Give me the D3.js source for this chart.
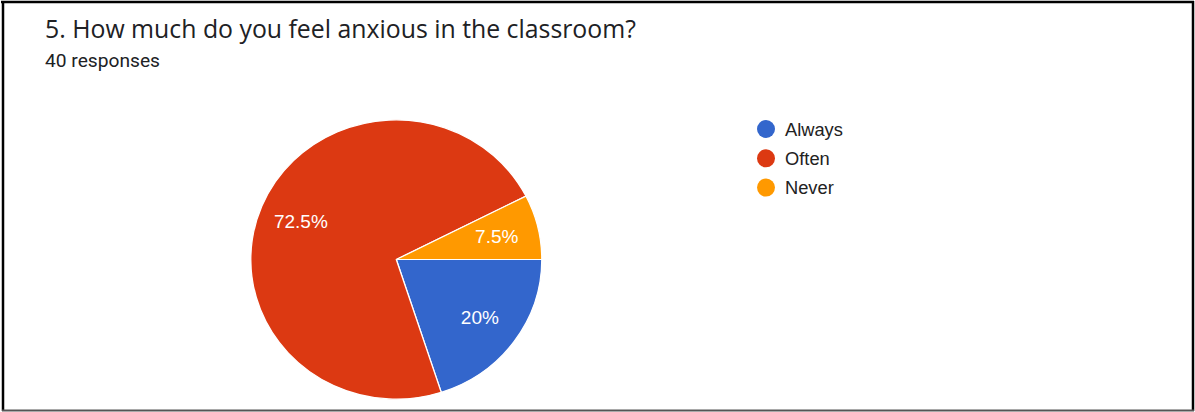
<!DOCTYPE html>
<html>
<head>
<meta charset="utf-8">
<script src="https://cdn.jsdelivr.net/npm/d3@7"></script>
<style>
  html, body { margin: 0; padding: 0; background: #fff; }
  svg { display: block; }
</style>
</head>
<body>
<svg id="chart" width="1195" height="412"></svg>
<script>
// Survey question and answer breakdown
const title = "5. How much do you feel anxious in the classroom?";
const subtitle = "40 responses";
const categories = ["Always", "Often", "Never"];
const percents = [20, 72.5, 7.5];
const colors = ["#3366cc", "#dc3912", "#ff9900"];
const labels = ["20%", "72.5%", "7.5%"];

const svg = d3.select("#chart");
const W = 1195, H = 412;
const headFont = "'Open Sans', Roboto, sans-serif";
const subFont = "Roboto, 'Noto Sans', sans-serif";
const chartFont = "'Liberation Sans', Arial, sans-serif";

svg.append("rect").attr("width", W).attr("height", H).attr("fill", "#fff");

// frame
svg.append("line").attr("x1", 3).attr("x2", 3).attr("y1", 1).attr("y2", 411).attr("stroke", "#000").attr("stroke-width", 2.5);
svg.append("line").attr("x1", 1).attr("x2", 1194).attr("y1", 2).attr("y2", 2).attr("stroke", "#000").attr("stroke-width", 2.5);
svg.append("line").attr("x1", 1193).attr("x2", 1193).attr("y1", 1).attr("y2", 411).attr("stroke", "#000").attr("stroke-width", 2.5);
svg.append("line").attr("x1", 2).attr("x2", 1194).attr("y1", 410.5).attr("y2", 410.5).attr("stroke", "#555").attr("stroke-width", 2);

// heading, sized to span its column width
const titleText = svg.append("text").attr("x", 45).attr("y", 38)
  .attr("font-family", headFont).attr("font-size", 20).attr("fill", "#202124")
  .text(title);
const tw = titleText.node().getComputedTextLength();
titleText.attr("font-size", 20 * 591 / tw);

svg.append("text").attr("x", 45).attr("y", 67)
  .attr("font-family", subFont).attr("font-size", 19.2).attr("fill", "#202124")
  .text(subtitle);

// pie
const R = 145.5;
const cx = 396.3, cy = 259.5;
const squash = 0.96;
const data = categories.map((c, i) => ({ name: c, value: percents[i], color: colors[i], label: labels[i] }));

const pie = d3.pie().value(d => d.value).sort(null)
  .startAngle(Math.PI / 2).endAngle(Math.PI / 2 + 2 * Math.PI);
const arc = d3.arc().innerRadius(0).outerRadius(R);
const labelArc = d3.arc().innerRadius(R * 0.71).outerRadius(R * 0.71);

const g = svg.append("g").attr("transform", `translate(${cx},${cy}) scale(1,${squash})`);
const arcs = pie(data);
g.selectAll("path.slice").data(arcs).join("path")
  .attr("class", "slice")
  .attr("d", arc)
  .attr("fill", d => d.data.color)
  .attr("stroke", "#fff").attr("stroke-width", 1.3);

const lg = svg.append("g").attr("transform", `translate(${cx},${cy})`);
lg.selectAll("text").data(arcs).join("text")
  .attr("x", d => labelArc.centroid(d)[0])
  .attr("y", d => labelArc.centroid(d)[1] * squash)
  .attr("text-anchor", "middle").attr("dominant-baseline", "central")
  .attr("font-family", chartFont).attr("font-size", 19).attr("fill", "#fff")
  .text(d => d.data.label);

// legend
const legend = svg.append("g").attr("transform", "translate(766,129)");
const items = legend.selectAll("g").data(data).join("g")
  .attr("transform", (d, i) => `translate(0,${i * 29.3})`);
items.append("circle").attr("r", 9).attr("fill", d => d.color);
items.append("text").attr("x", 19).attr("y", 0)
  .attr("dominant-baseline", "central")
  .attr("font-family", chartFont).attr("font-size", 18.3).attr("fill", "#222")
  .text(d => d.name);
</script>
</body>
</html>
